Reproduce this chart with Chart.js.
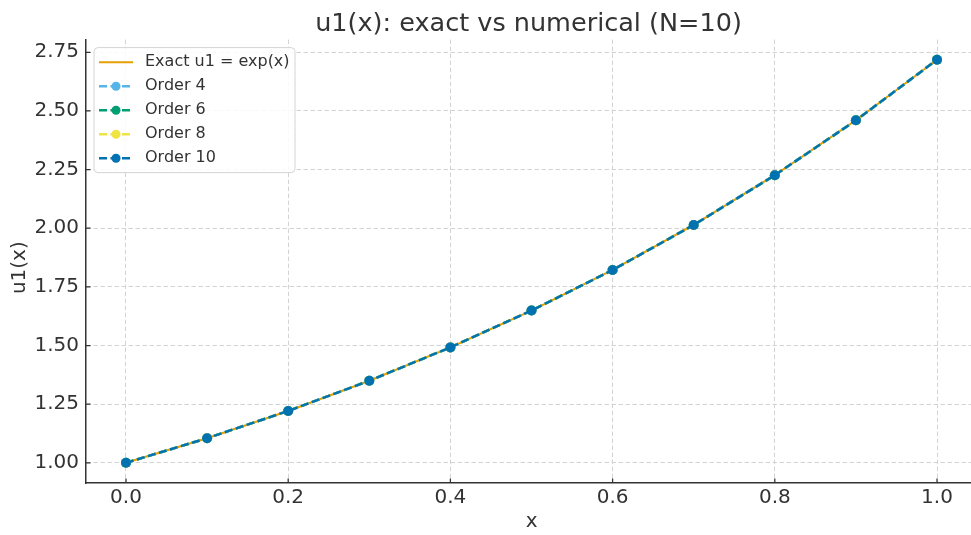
<!DOCTYPE html>
<html>
<head>
<meta charset="utf-8">
<script src="https://cdn.jsdelivr.net/npm/chart.js@4.4.1/dist/chart.umd.min.js"></script>
<style>
  html, body { margin: 0; padding: 0; background: #fff; overflow: hidden; }
  #wrap { width: 971px; height: 535px; }
</style>
</head>
<body>
<div id="wrap"><canvas id="u1Chart" width="971" height="535"></canvas></div>
<script>
// data
const xValues = [0.0, 0.1, 0.2, 0.3, 0.4, 0.5, 0.6, 0.7, 0.8, 0.9, 1.0];
const exactU1 = [1.000, 1.105, 1.221, 1.350, 1.492, 1.649, 1.822, 2.014, 2.226, 2.460, 2.718];
const order4  = [1.000, 1.105, 1.221, 1.350, 1.492, 1.649, 1.822, 2.014, 2.226, 2.460, 2.718];
const order6  = [1.000, 1.105, 1.221, 1.350, 1.492, 1.649, 1.822, 2.014, 2.226, 2.460, 2.718];
const order8  = [1.000, 1.105, 1.221, 1.350, 1.492, 1.649, 1.822, 2.014, 2.226, 2.460, 2.718];
const order10 = [1.000, 1.105, 1.221, 1.350, 1.492, 1.649, 1.822, 2.014, 2.226, 2.460, 2.718];

const xTicks = [0.0, 0.2, 0.4, 0.6, 0.8, 1.0];
const xTickLabels = ['0.0', '0.2', '0.4', '0.6', '0.8', '1.0'];
const yTicks = [1.00, 1.25, 1.50, 1.75, 2.00, 2.25, 2.50, 2.75];
const yTickLabels = ['1.00', '1.25', '1.50', '1.75', '2.00', '2.25', '2.50', '2.75'];

const FONT = "'DejaVu Sans', sans-serif";
const TEXT = '#333';

const toPoints = (ys) => ys.map((y, i) => ({ x: xValues[i], y: y }));

function numericSeries(label, ys, color, order) {
  return {
    label: label,
    data: toPoints(ys),
    borderColor: color,
    backgroundColor: color,
    borderWidth: 2.5,
    borderDash: [8, 3.5],
    pointRadius: 5,
    pointBorderWidth: 0,
    pointBackgroundColor: color,
    fill: false,
    tension: 0,
    order: order
  };
}

// small ticks pointing into the plot, like the original
const inwardTicks = {
  id: 'inwardTicks',
  beforeDatasetsDraw(chart) {
    const { ctx, chartArea: a, scales } = chart;
    ctx.save();
    ctx.strokeStyle = TEXT;
    ctx.lineWidth = 1.25;
    ctx.beginPath();
    scales.x.ticks.forEach(t => {
      const px = scales.x.getPixelForValue(t.value);
      ctx.moveTo(px, a.bottom);
      ctx.lineTo(px, a.bottom - 4.5);
    });
    scales.y.ticks.forEach(t => {
      const py = scales.y.getPixelForValue(t.value);
      ctx.moveTo(a.left, py);
      ctx.lineTo(a.left + 4.5, py);
    });
    ctx.stroke();
    ctx.restore();
  }
};

// legend box inside the upper-left corner of the plot
const legendBox = {
  id: 'legendBox',
  afterDatasetsDraw(chart) {
    const { ctx, chartArea: a } = chart;
    const x0 = a.left + 8, y0 = a.top + 8;
    ctx.save();
    ctx.beginPath();
    ctx.roundRect(x0, y0, 201, 125, 4);
    ctx.fillStyle = 'rgba(255,255,255,0.85)';
    ctx.fill();
    ctx.strokeStyle = '#d4d4d4';
    ctx.lineWidth = 1;
    ctx.stroke();

    chart.data.datasets.forEach((ds, i) => {
      const cy = y0 + 14.7 + i * 24;
      ctx.beginPath();
      ctx.setLineDash(ds.borderDash || []);
      ctx.strokeStyle = ds.borderColor;
      ctx.lineWidth = ds.borderWidth;
      ctx.moveTo(x0 + 5, cy);
      ctx.lineTo(x0 + 39, cy);
      ctx.stroke();
      ctx.setLineDash([]);
      if (ds.pointRadius > 0) {
        ctx.beginPath();
        ctx.arc(x0 + 22, cy, 4.5, 0, Math.PI * 2);
        ctx.fillStyle = ds.pointBackgroundColor;
        ctx.fill();
      }
      ctx.fillStyle = TEXT;
      ctx.font = '16px ' + FONT;
      ctx.textAlign = 'left';
      ctx.textBaseline = 'middle';
      ctx.fillText(ds.label, x0 + 51, cy);
    });
    ctx.restore();
  }
};

new Chart(document.getElementById('u1Chart'), {
  type: 'line',
  data: {
    datasets: [
      {
        label: 'Exact u1 = exp(x)',
        data: toPoints(exactU1),
        borderColor: '#E69F00',
        backgroundColor: '#E69F00',
        borderWidth: 2,
        pointRadius: 0,
        fill: false,
        tension: 0,
        order: 5
      },
      numericSeries('Order 4', order4, '#56B4E9', 4),
      numericSeries('Order 6', order6, '#009E73', 3),
      numericSeries('Order 8', order8, '#F0E442', 2),
      numericSeries('Order 10', order10, '#0072B2', 1)
    ]
  },
  options: {
    responsive: false,
    animation: false,
    layout: { padding: 0, autoPadding: false },
    plugins: {
      legend: { display: false },
      tooltip: { enabled: false },
      title: {
        display: true,
        fullSize: false,
        text: 'u1(x): exact vs numerical (N=10)',
        color: TEXT,
        font: { family: FONT, size: 25.5, weight: 'normal' },
        padding: { top: 9, bottom: 0 }
      }
    },
    scales: {
      x: {
        type: 'linear',
        min: -0.0493,
        max: 1.0419,
        afterBuildTicks: (scale) => { scale.ticks = xTicks.map(v => ({ value: v })); },
        afterFit: (scale) => { scale.height = 52; },
        ticks: {
          autoSkip: false,
          maxRotation: 0,
          padding: 3,
          color: TEXT,
          font: { family: FONT, size: 20 },
          callback: (value, index) => xTickLabels[index]
        },
        grid: { color: '#d3d3d3', lineWidth: 1, drawTicks: false },
        border: { display: true, color: TEXT, width: 1.5, dash: [4.5, 2.5] },
        title: {
          display: true,
          text: ' x',
          color: TEXT,
          font: { family: FONT, size: 20 },
          padding: { top: 0, bottom: 1 }
        }
      },
      y: {
        type: 'linear',
        min: 0.914,
        max: 2.804,
        afterBuildTicks: (scale) => { scale.ticks = yTicks.map(v => ({ value: v })); },
        afterFit: (scale) => { scale.width = 86; },
        ticks: {
          autoSkip: false,
          padding: 7,
          color: TEXT,
          font: { family: FONT, size: 20 },
          callback: (value, index) => yTickLabels[index]
        },
        grid: { color: '#d3d3d3', lineWidth: 1, drawTicks: false },
        border: { display: true, color: TEXT, width: 1.5, dash: [4.5, 2.5] },
        title: {
          display: true,
          text: 'u1(x)  ',
          color: TEXT,
          font: { family: FONT, size: 20 },
          padding: { top: 8, bottom: 0 }
        }
      }
    }
  },
  plugins: [inwardTicks, legendBox]
});
</script>
</body>
</html>
